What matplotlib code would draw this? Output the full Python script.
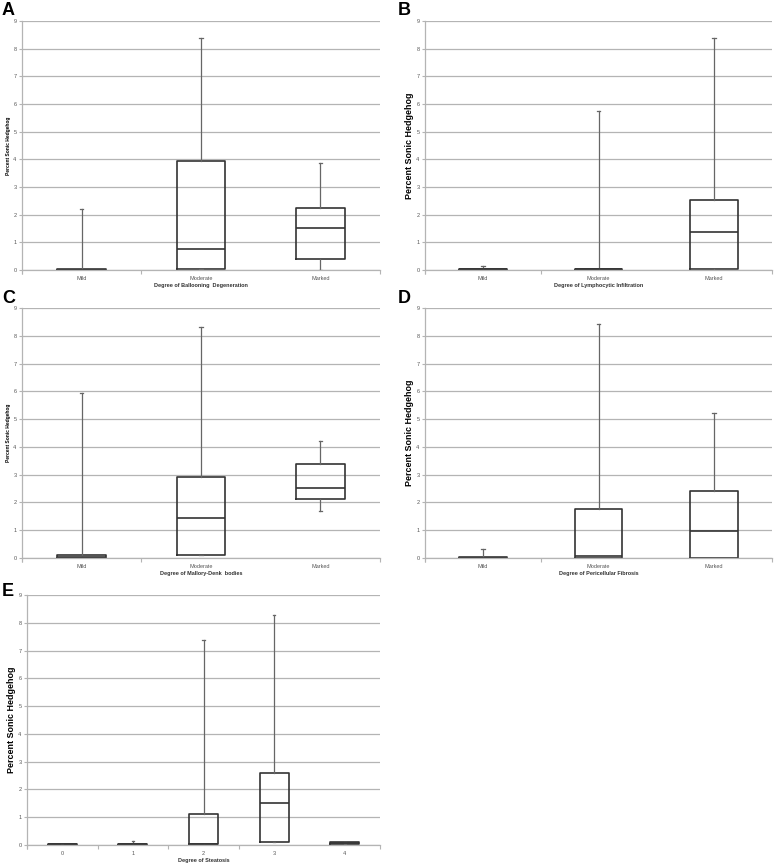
import matplotlib
matplotlib.use('Agg')
import matplotlib.pyplot as plt

plt.rcParams['font.family'] = ['Liberation Sans', 'DejaVu Sans']

# box stats per panel: (whislo, q1, med, q3, whishi)
cats_abc = ['Mild', 'Moderate', 'Marked']
cats_e = ['0', '1', '2', '3', '4']

a_lo = [0.0, 0.03, 0.0]
a_q1 = [0.0, 0.05, 0.40]
a_med = [0.01, 0.75, 1.53]
a_q3 = [0.03, 3.95, 2.23]
a_hi = [2.22, 8.37, 3.85]

b_lo = [0.0, 0.0, 0.0]
b_q1 = [0.0, 0.0, 0.02]
b_med = [0.02, 0.02, 1.37]
b_q3 = [0.04, 0.04, 2.52]
b_hi = [0.15, 5.75, 8.38]

c_lo = [0.0, 0.10, 1.70]
c_q1 = [0.0, 0.10, 2.13]
c_med = [0.05, 1.45, 2.53]
c_q3 = [0.10, 2.93, 3.38]
c_hi = [5.93, 8.30, 4.23]

d_lo = [0.0, 0.0, 0.0]
d_q1 = [0.0, 0.0, 0.0]
d_med = [0.01, 0.07, 0.97]
d_q3 = [0.03, 1.77, 2.43]
d_hi = [0.33, 8.42, 5.22]

e_lo = [0.0, 0.0, 0.0, 0.10, 0.05]
e_q1 = [0.0, 0.0, 0.02, 0.12, 0.05]
e_med = [0.02, 0.02, 0.03, 1.53, 0.08]
e_q3 = [0.03, 0.03, 1.10, 2.58, 0.10]
e_hi = [0.03, 0.15, 7.38, 8.28, 0.10]

# letter, categories, stats, x label, big y label, axes box in pixels, letter pos
panels = [
    ('A', cats_abc, a_lo, a_q1, a_med, a_q3, a_hi, 'Degree of Ballooning  Degeneration', False,
     [22, 21, 380, 270], (2, 15)),
    ('B', cats_abc, b_lo, b_q1, b_med, b_q3, b_hi, 'Degree of Lymphocytic Infiltration', True,
     [425, 21, 772, 270], (398, 15)),
    ('C', cats_abc, c_lo, c_q1, c_med, c_q3, c_hi, 'Degree of Mallory-Denk  bodies', False,
     [22, 308, 380, 558], (2, 303)),
    ('D', cats_abc, d_lo, d_q1, d_med, d_q3, d_hi, 'Degree of Pericellular Fibrosis', True,
     [425, 308, 772, 558], (398, 303)),
    ('E', cats_e, e_lo, e_q1, e_med, e_q3, e_hi, 'Degree of Steatosis', True,
     [27, 595, 380, 845], (2, 596)),
]

W, H = 778, 864
fig = plt.figure(figsize=(W / 100, H / 100), dpi=100)

grid_c = '#b4b4b4'
box_c = '#333333'
whis_c = '#666666'

for letter, cats, lo, q1, med, q3, hi, xlab, big, (x0, y0, x1, y1), (lx, ly) in panels:
    ax = fig.add_axes([x0 / W, 1 - y1 / H, (x1 - x0) / W, (y1 - y0) / H])
    n = len(cats)
    stats = []
    for k in range(n):
        stats.append(dict(whislo=lo[k], q1=q1[k], med=med[k], q3=q3[k], whishi=hi[k], fliers=[]))
    pos = list(range(1, n + 1))
    ax.bxp(stats, positions=pos, widths=0.41, showfliers=False, capwidths=0.03,
           boxprops=dict(color=box_c, linewidth=1.2),
           medianprops=dict(color=box_c, linewidth=1.2),
           whiskerprops=dict(color=whis_c, linewidth=0.9),
           capprops=dict(color=whis_c, linewidth=0.9))
    ax.set_xlim(0.5, n + 0.5)
    ax.set_ylim(0, 9)
    ax.set_yticks(range(10))
    ax.set_yticklabels([str(v) for v in range(10)])
    ax.yaxis.grid(True, color=grid_c, linewidth=0.9)
    ax.set_axisbelow(True)
    ax.set_xticks(pos)
    ax.set_xticklabels(cats)
    ax.set_xticks([p + 0.5 for p in range(n - 1)] + [0.5, n + 0.5], minor=True)
    ax.tick_params(axis='x', which='major', length=0, labelsize=4, colors='#555555', pad=4)
    ax.tick_params(axis='x', which='minor', length=3, color=grid_c, width=0.8)
    ax.tick_params(axis='y', length=2.5, color=grid_c, width=0.8, labelsize=4,
                   labelcolor='#555555', pad=1.5)
    for s in ['top', 'right']:
        ax.spines[s].set_visible(False)
    for s in ['left', 'bottom']:
        ax.spines[s].set_color(grid_c)
        ax.spines[s].set_linewidth(0.9)
    ax.set_xlabel(xlab, fontsize=4, fontweight='bold', color='#333333', labelpad=2)
    wpx = x1 - x0
    if big:
        ax.set_ylabel('Percent Sonic Hedgehog', fontsize=6.4, fontweight='bold', va='center')
        ax.yaxis.set_label_coords(-16 / wpx, 0.5)
    else:
        ax.set_ylabel('Percent Sonic Hedgehog', fontsize=3.5, fontweight='bold', va='center')
        ax.yaxis.set_label_coords(-13 / wpx, 0.5)
    fig.text(lx / W, 1 - ly / H, letter, fontsize=13, fontweight='bold',
             ha='left', va='baseline')

fig.savefig('out.png', dpi=100)
